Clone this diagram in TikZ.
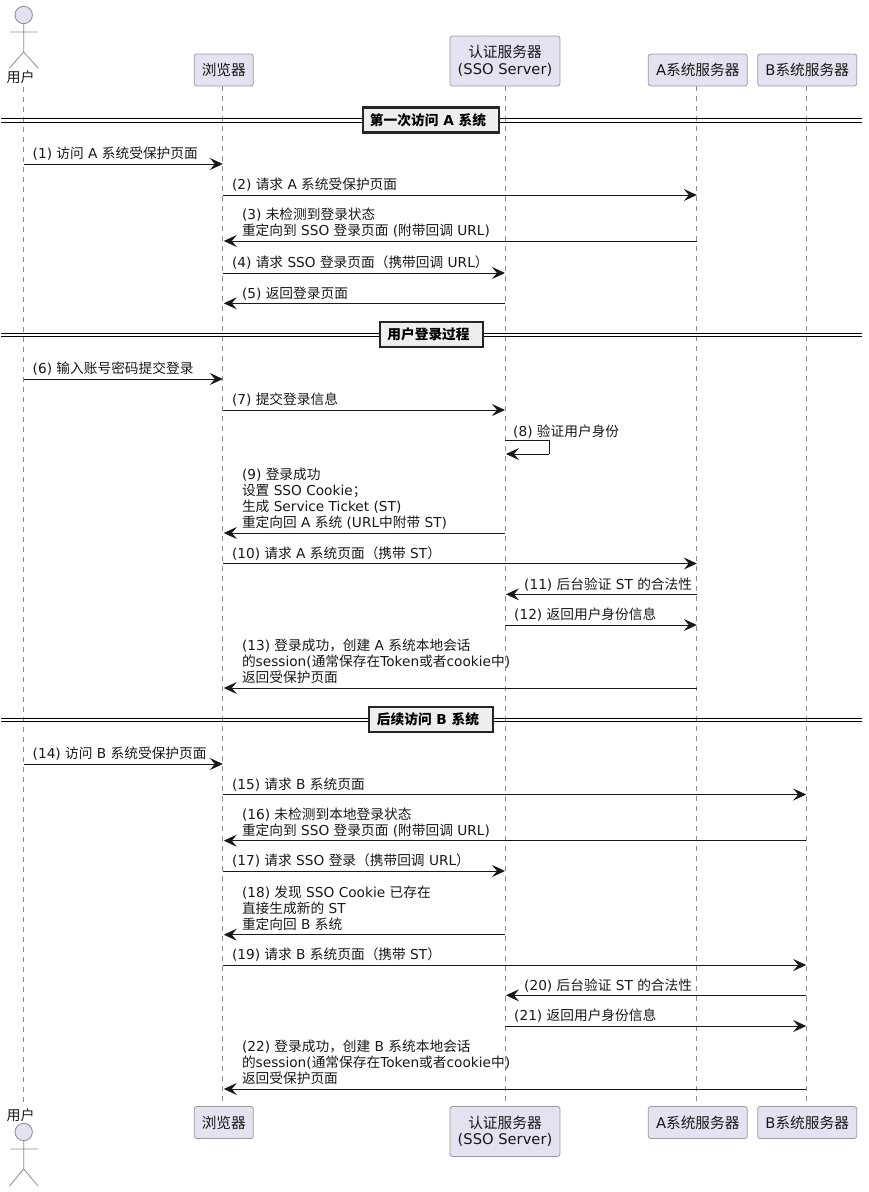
\documentclass[tikz,border=0pt]{standalone}
\usepackage{fontspec}
\usetikzlibrary{arrows.meta,calc}
\setmainfont{DejaVu Sans}
\newfontfamily\cjkfam{Noto Sans CJK SC}
\newcount\cjkloop
\newcommand\cjkrange[2]{\cjkloop=#1\relax
  \loop\XeTeXcharclass\cjkloop=77\relax
  \ifnum\cjkloop<#2\relax\advance\cjkloop by 1\repeat}
\cjkrange{"4E00}{"9FFF}
\cjkrange{"3000}{"303F}
\cjkrange{"FF00}{"FFEF}
\XeTeXinterchartokenstate=1
\XeTeXinterchartoks 0 77 = {\cjkfam}
\XeTeXinterchartoks 4095 77 = {\cjkfam}
\XeTeXinterchartoks 77 0 = {\rmfamily}
\XeTeXinterchartoks 77 4095 = {\rmfamily}
\definecolor{partfill}{HTML}{E2E2F0}
\definecolor{partline}{HTML}{9A9AA6}
\definecolor{inkline}{HTML}{181818}
\definecolor{divfill}{HTML}{EEEEEE}
\definecolor{lifegray}{HTML}{8C8C8C}
\tikzset{
  part/.style={draw=partline,fill=partfill,line width=0.8pt,rounded corners=2.5pt,align=center,
    font=\fontsize{14.7}{16.5}\selectfont,text=inkline,inner sep=0pt,minimum height=32pt},
  lifeline/.style={draw=lifegray,line width=0.7pt,dash pattern=on 5pt off 5pt},
  actorline/.style={draw=lifegray,line width=0.8pt},
  actorhead/.style={circle,draw=lifegray,fill=partfill,line width=0.8pt,minimum size=17.4pt,inner sep=0pt},
  actorlabel/.style={font=\fontsize{14}{16}\selectfont,text=inkline,inner sep=0pt},
  msgline/.style={draw=inkline,line width=0.85pt,-{Stealth[length=13pt,width=12pt,inset=5pt]}},
  msgbare/.style={draw=inkline,line width=0.85pt},
  lbl/.style={anchor=south west,inner sep=0pt,text depth=0pt,align=left,text=inkline,
    font=\fontsize{13.7}{16}\selectfont},
  divrule/.style={draw=black,line width=0.9pt},
  divshade/.style={draw=black!25,line width=1pt},
  divbox/.style={draw=black!85,fill=divfill,line width=2.2pt,inner sep=0pt,minimum height=25pt,
    font=\fontsize{13.7}{16}\selectfont\bfseries,text=black}
}
\newcommand\fw[5]{% from, to, y, node name, text
  \coordinate (y#4) at (0,#3);
  \draw[msgline] (#1 |- y#4) -- (#2 |- y#4);
  \node[lbl] (#4) at ($(#1 |- y#4)+(9,-5)$) {#5};}
\newcommand\bk[5]{%
  \coordinate (y#4) at (0,#3);
  \draw[msgline] (#1 |- y#4) -- ($(#2 |- y#4)+(1,0)$);
  \node[lbl] (#4) at ($(#2 |- y#4)+(19,-5)$) {#5};}
\newcommand\divider[6]{% name, y1, y2, cx, w, text
  \coordinate (#1a) at (1,#2);\coordinate (#1b) at (862,#2);
  \coordinate (#1c) at (1,#3);\coordinate (#1d) at (862,#3);
  \draw[divrule] (#1a) -- (#1b);
  \draw[divrule] (#1c) -- (#1d);
  \node[divbox,minimum width=#5pt] (#1) at (#4,{(#2+#3)/2}) {\kern-6pt #6};}
\begin{document}
\begin{tikzpicture}[x=1pt,y=-1pt]
\useasboundingbox (0,0) rectangle (869,1192);
% participants
\node[part,minimum width=59pt] (br) at (223.8,70) {浏览器};
\node[part,minimum width=110pt,minimum height=50pt] (sso) at (505,61) {认证服务器\\(SSO Server)};
\node[part,minimum width=99pt] (asv) at (697.8,70) {A系统服务器};
\node[part,minimum width=99pt] (bsv) at (807.2,70) {B系统服务器};
\node[part,minimum width=59pt] (brb) at (223.8,1122.5) {浏览器};
\node[part,minimum width=110pt,minimum height=50pt] (ssob) at (505,1131.5) {认证服务器\\(SSO Server)};
\node[part,minimum width=99pt] (asvb) at (697.8,1122.5) {A系统服务器};
\node[part,minimum width=99pt] (bsvb) at (807.2,1122.5) {B系统服务器};
% actors
\node[actorlabel] (ulab) at (20.5,77) {用户};
\node[actorlabel] (ulabb) at (20.5,1115) {用户};
\node[actorhead] (uh) at (23.7,15) {};
\node[actorhead] (uhb) at (23.7,1132) {};
\coordinate (uhip) at (23.7,52);\coordinate (uarmL) at (10,32);\coordinate (uarmR) at (38,32);
\coordinate (ulegL) at (9.5,68);\coordinate (ulegR) at (38,68);
\draw[actorline] (uh) -- (uhip) -- (ulegL) (uhip) -- (ulegR) (uarmL) -- (uarmR);
\coordinate (bhip) at (23.7,1169);\coordinate (barmL) at (10,1149);\coordinate (barmR) at (38,1149);
\coordinate (blegL) at (9.5,1186);\coordinate (blegR) at (38,1186);
\draw[actorline] (uhb) -- (bhip) -- (blegL) (bhip) -- (blegR) (barmL) -- (barmR);
% lifelines
\coordinate (uL) at (23.5,87);\coordinate (uLb) at (23.5,1103);
\coordinate (brL) at ($(br.south)+(-1,0)$);\coordinate (brLb) at ($(brb.north)+(-1,0)$);
\coordinate (ssoL) at (sso.south);\coordinate (ssoLb) at (ssob.north);
\coordinate (asvL) at ($(asv.south)+(-1,0)$);\coordinate (asvLb) at ($(asvb.north)+(-1,0)$);
\coordinate (bsvL) at ($(bsv.south)+(-1,0)$);\coordinate (bsvLb) at ($(bsvb.north)+(-1,0)$);
\draw[lifeline] (uL) -- (uLb);
\draw[lifeline] (brL) -- (brLb);
\draw[lifeline] (ssoL) -- (ssoLb);
\draw[lifeline] (asvL) -- (asvLb);
\draw[lifeline] (bsvL) -- (bsvLb);
% dividers
\divider{da}{118}{122}{431}{136}{第一次访问 A 系统}
\divider{db}{333}{336.5}{431.5}{103}{用户登录过程}
\divider{dc}{718}{721.5}{431}{124}{后续访问 B 系统}
% messages
\fw{uL}{brL}{164}{m1}{(1) 访问 A 系统受保护页面}
\fw{brL}{asvL}{195}{m2}{(2) 请求 A 系统受保护页面}
\bk{asvL}{brL}{241}{m3}{(3) 未检测到登录状态\\重定向到 SSO 登录页面 (附带回调 URL)}
\fw{brL}{ssoL}{273}{m4}{(4) 请求 SSO 登录页面（携带回调 URL）}
\bk{ssoL}{brL}{303.3}{m5}{(5) 返回登录页面}
\fw{uL}{brL}{379}{m6}{(6) 输入账号密码提交登录}
\fw{brL}{ssoL}{410}{m7}{(7) 提交登录信息}
\coordinate (s8a) at (0,440.5);\coordinate (s8r) at (549,440.5);\coordinate (s8s) at (549,454);\coordinate (s8e) at (0,454);
\draw[msgbare] (ssoL |- s8a) -- (s8r) -- (s8s);
\draw[msgline] (s8s) -- ($(ssoL |- s8e)+(1,0)$);
\node[lbl] (m8) at ($(ssoL |- s8a)+(8,-4)$) {(8) 验证用户身份};
\bk{ssoL}{brL}{533}{m9}{(9) 登录成功\\设置 SSO Cookie；\\生成 Service Ticket (ST)\\重定向回 A 系统 (URL中附带 ST)}
\fw{brL}{asvL}{563.5}{m10}{(10) 请求 A 系统页面（携带 ST）}
\bk{asvL}{ssoL}{594.3}{m11}{(11) 后台验证 ST 的合法性}
\fw{ssoL}{asvL}{625}{m12}{(12) 返回用户身份信息}
\bk{asvL}{brL}{688}{m13}{(13) 登录成功，创建 A 系统本地会话\\的session(通常保存在Token或者cookie中)\\返回受保护页面}
\fw{uL}{brL}{764}{m14}{(14) 访问 B 系统受保护页面}
\fw{brL}{bsvL}{794.5}{m15}{(15) 请求 B 系统页面}
\bk{bsvL}{brL}{840.7}{m16}{(16) 未检测到本地登录状态\\重定向到 SSO 登录页面 (附带回调 URL)}
\fw{brL}{ssoL}{871}{m17}{(17) 请求 SSO 登录（携带回调 URL）}
\bk{ssoL}{brL}{934.7}{m18}{(18) 发现 SSO Cookie 已存在\\直接生成新的 ST\\重定向回 B 系统}
\fw{brL}{bsvL}{965}{m19}{(19) 请求 B 系统页面（携带 ST）}
\bk{bsvL}{ssoL}{995.3}{m20}{(20) 后台验证 ST 的合法性}
\fw{ssoL}{bsvL}{1026}{m21}{(21) 返回用户身份信息}
\bk{bsvL}{brL}{1089}{m22}{(22) 登录成功，创建 B 系统本地会话\\的session(通常保存在Token或者cookie中)\\返回受保护页面}
\end{tikzpicture}
\end{document}
